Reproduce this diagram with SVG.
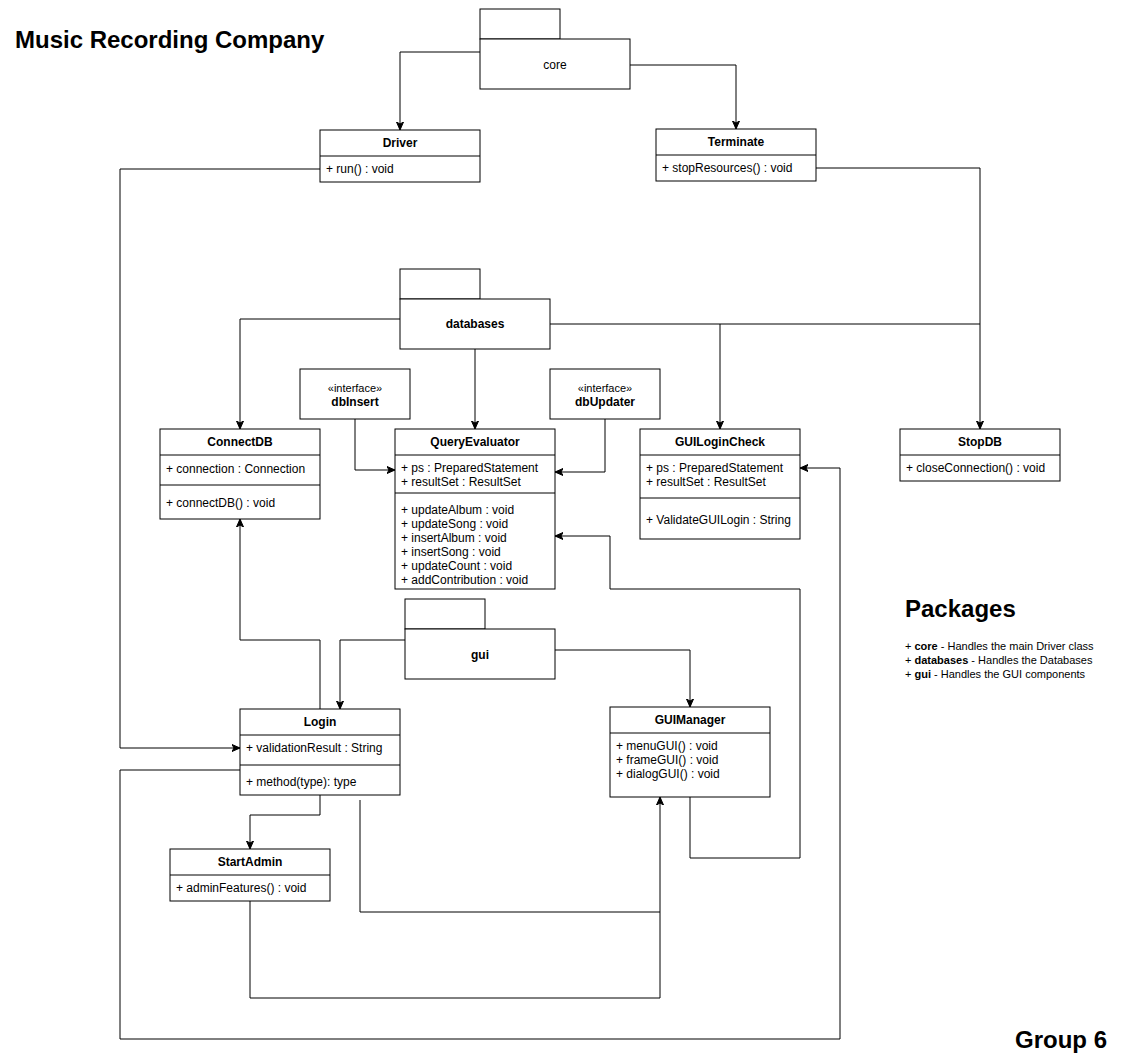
<svg xmlns="http://www.w3.org/2000/svg" width="1127" height="1061" viewBox="0 0 1127 1061">
<style>
.bx{fill:#fff;stroke:#000;stroke-width:1}
.ln{fill:none;stroke:#000;stroke-width:1}
.e{fill:none;stroke:#000;stroke-width:1;marker-end:url(#arr)}
text{font-family:"Liberation Sans",Arial,sans-serif;fill:#000}
.h{font-size:12px;font-weight:bold;text-anchor:middle}
.m{font-size:12px}
.s{font-size:12px;text-anchor:middle}
.big{font-size:24px;font-weight:bold}
.p{font-size:11px}
</style>
<defs>
<marker id="arr" markerWidth="9" markerHeight="8" refX="8" refY="4" orient="auto" markerUnits="userSpaceOnUse">
<path d="M0,0.5 L8,4 L0,7.5 L2,4 z" fill="#000" stroke="#000" stroke-width="1"/>
</marker>
</defs>
<rect width="1127" height="1061" fill="#fff"/>

<g id="connectors">
<path class="e" d="M480,52 H400 V130"/>
<path class="e" d="M630,65 H736 V129"/>
<path class="e" d="M320,169 H120 V748 H240"/>
<path class="e" d="M816,168 H980 V429"/>
<path class="e" d="M400,319 H240 V429"/>
<path class="e" d="M475,349 V429"/>
<path class="ln" d="M550,324 H980"/>
<path class="e" d="M720,324 V429"/>
<path class="e" d="M355,419 V470 H395"/>
<path class="e" d="M605,419 V472 H555"/>
<path class="e" d="M405,640 H340 V709"/>
<path class="e" d="M555,650 H690 V707"/>
<path class="e" d="M320,709 V640 H240 V519"/>
<path class="e" d="M320,795 V815 H250 V849"/>
<path class="e" d="M360,800 V912 H660 V797"/>
<path class="ln" d="M250,901 V998 H660 V912"/>
<path class="e" d="M240,770 H120 V1039 H840 V468 H800"/>
<path class="e" d="M690,797 V858 H800 V589 H610 V536 H555"/>
</g>

<text class="big" x="15" y="48">Music Recording Company</text>

<g id="core">
<rect class="bx" x="480" y="9" width="80" height="30"/>
<rect class="bx" x="480" y="39" width="150" height="50"/>
<text class="s" x="555" y="69">core</text>
</g>

<g id="Driver">
<rect class="bx" x="320" y="130" width="160" height="52"/>
<line class="ln" x1="320" y1="156" x2="480" y2="156"/>
<text class="h" x="400" y="147">Driver</text>
<text class="m" x="326" y="173">+ run() : void</text>
</g>

<g id="Terminate">
<rect class="bx" x="656" y="129" width="160" height="52"/>
<line class="ln" x1="656" y1="155" x2="816" y2="155"/>
<text class="h" x="736" y="146">Terminate</text>
<text class="m" x="662" y="172">+ stopResources() : void</text>
</g>

<g id="databases">
<rect class="bx" x="400" y="269" width="80" height="30"/>
<rect class="bx" x="400" y="299" width="150" height="50"/>
<text class="h" x="475" y="328">databases</text>
</g>

<g id="dbInsert">
<rect class="bx" x="300" y="369" width="110" height="50"/>
<text class="s" x="355" y="392" style="font-size:11px">«interface»</text>
<text class="h" x="355" y="406">dbInsert</text>
</g>

<g id="dbUpdater">
<rect class="bx" x="550" y="369" width="110" height="50"/>
<text class="s" x="605" y="392" style="font-size:11px">«interface»</text>
<text class="h" x="605" y="406">dbUpdater</text>
</g>

<g id="ConnectDB">
<rect class="bx" x="160" y="429" width="160" height="90"/>
<line class="ln" x1="160" y1="455" x2="320" y2="455"/>
<line class="ln" x1="160" y1="485" x2="320" y2="485"/>
<text class="h" x="240" y="446">ConnectDB</text>
<text class="m" x="166" y="473">+ connection : Connection</text>
<text class="m" x="166" y="507">+ connectDB() : void</text>
</g>

<g id="QueryEvaluator">
<rect class="bx" x="395" y="429" width="160" height="160"/>
<line class="ln" x1="395" y1="455" x2="555" y2="455"/>
<line class="ln" x1="395" y1="493" x2="555" y2="493"/>
<text class="h" x="475" y="446">QueryEvaluator</text>
<text class="m" x="401" y="472">+ ps : PreparedStatement</text>
<text class="m" x="401" y="486">+ resultSet : ResultSet</text>
<text class="m" x="401" y="514">+ updateAlbum : void</text>
<text class="m" x="401" y="528">+ updateSong : void</text>
<text class="m" x="401" y="542">+ insertAlbum : void</text>
<text class="m" x="401" y="556">+ insertSong : void</text>
<text class="m" x="401" y="570">+ updateCount : void</text>
<text class="m" x="401" y="584">+ addContribution : void</text>
</g>

<g id="GUILoginCheck">
<rect class="bx" x="640" y="429" width="160" height="110"/>
<line class="ln" x1="640" y1="455" x2="800" y2="455"/>
<line class="ln" x1="640" y1="498" x2="800" y2="498"/>
<text class="h" x="720" y="446">GUILoginCheck</text>
<text class="m" x="646" y="472">+ ps : PreparedStatement</text>
<text class="m" x="646" y="486">+ resultSet : ResultSet</text>
<text class="m" x="646" y="524">+ ValidateGUILogin : String</text>
</g>

<g id="StopDB">
<rect class="bx" x="900" y="429" width="160" height="52"/>
<line class="ln" x1="900" y1="455" x2="1060" y2="455"/>
<text class="h" x="980" y="446">StopDB</text>
<text class="m" x="906" y="472">+ closeConnection() : void</text>
</g>

<g id="gui">
<rect class="bx" x="405" y="599" width="80" height="30"/>
<rect class="bx" x="405" y="629" width="150" height="50"/>
<text class="h" x="480" y="659">gui</text>
</g>

<g id="Login">
<rect class="bx" x="240" y="709" width="160" height="86"/>
<line class="ln" x1="240" y1="735" x2="400" y2="735"/>
<line class="ln" x1="240" y1="765" x2="400" y2="765"/>
<text class="h" x="320" y="726">Login</text>
<text class="m" x="246" y="752">+ validationResult : String</text>
<text class="m" x="246" y="786">+ method(type): type</text>
</g>

<g id="GUIManager">
<rect class="bx" x="610" y="707" width="160" height="90"/>
<line class="ln" x1="610" y1="733" x2="770" y2="733"/>
<text class="h" x="690" y="724">GUIManager</text>
<text class="m" x="616" y="750">+ menuGUI() : void</text>
<text class="m" x="616" y="764">+ frameGUI() : void</text>
<text class="m" x="616" y="778">+ dialogGUI() : void</text>
</g>

<g id="StartAdmin">
<rect class="bx" x="170" y="849" width="160" height="52"/>
<line class="ln" x1="170" y1="875" x2="330" y2="875"/>
<text class="h" x="250" y="866">StartAdmin</text>
<text class="m" x="176" y="892">+ adminFeatures() : void</text>
</g>

<g id="packages-legend">
<text class="big" x="905" y="617">Packages</text>
<text class="p" x="905" y="650">+ <tspan font-weight="bold">core</tspan> - Handles the main Driver class</text>
<text class="p" x="905" y="664">+ <tspan font-weight="bold">databases</tspan> - Handles the Databases</text>
<text class="p" x="905" y="678">+ <tspan font-weight="bold">gui</tspan> - Handles the GUI components</text>
</g>

<text class="big" x="1015" y="1048">Group 6</text>
</svg>
